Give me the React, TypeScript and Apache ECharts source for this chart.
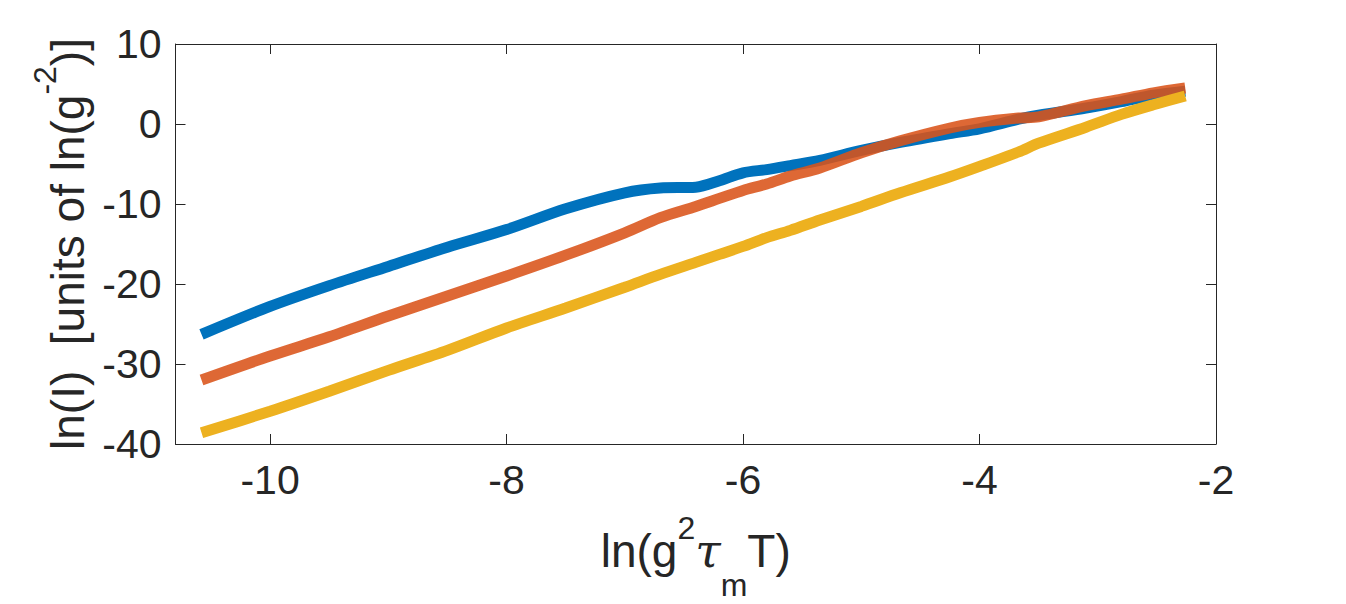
import React, { useEffect, useRef } from "react";
import * as echarts from "echarts";

const xValues = [-10.58, -10, -9.5, -9, -8.5, -8, -7.5, -7, -6.7, -6.4, -6.2, -6.0, -5.8, -5.6, -5.35, -5, -4.67, -4.25, -4, -3.67, -3.5, -3.1, -2.8, -2.53, -2.26];
const blueValues = [-26.3, -22.8, -20.2, -17.8, -15.4, -13.2, -10.6, -8.6, -8.0, -7.9, -7.1, -6.1, -5.7, -5.2, -4.55, -3.3, -2.3, -1.2, -0.6, 0.6, 1.1, 2.0, 2.8, 3.6, 4.1];
const orangeValues = [-32.0, -29.0, -26.6, -24.0, -21.5, -19.0, -16.4, -13.6, -11.7, -10.3, -9.3, -8.3, -7.5, -6.5, -5.5, -3.6, -2.1, -0.5, 0.2, 0.75, 0.9, 2.3, 3.1, 3.9, 4.5];
const yellowValues = [-38.6, -35.9, -33.4, -30.8, -28.3, -25.5, -23.0, -20.4, -18.8, -17.3, -16.3, -15.3, -14.2, -13.3, -12.0, -10.3, -8.6, -6.6, -5.3, -3.5, -2.4, -0.4, 1.2, 2.4, 3.5];
const xTicks = [-10, -8, -6, -4, -2];
const yTicks = [-40, -30, -20, -10, 0, 10];

const FONT = "'Liberation Sans', Arial, Helvetica, sans-serif";
const INK = "#262626";

const pairs = (ys: number[]) => xValues.map((x, i) => [x, ys[i]]);

export default function App() {
  const ref = useRef<HTMLDivElement>(null);
  useEffect(() => {
    if (!ref.current) return;
    const chart = echarts.init(ref.current, null, { renderer: "svg" });
    const richX = {
      m: { fontSize: 46, fontFamily: FONT, color: INK },
      sup: { fontSize: 32, fontFamily: FONT, color: INK, padding: [0, 0, 46, 0] },
      sub: { fontSize: 32, fontFamily: FONT, color: INK, padding: [68, 0, 0, 0] },
      tau: { fontSize: 46, fontFamily: "'DejaVu Serif', 'Liberation Serif', serif", fontStyle: "italic", color: INK },
    };
    const richY = {
      m: { fontSize: 46, fontFamily: FONT, color: INK },
      sup: { fontSize: 32, fontFamily: FONT, color: INK, padding: [0, 0, 46, 0] },
    };
    const baseX = {
      type: "value",
      min: -10.8,
      max: -2,
      splitLine: { show: false },
      axisLine: { show: true, onZero: false, lineStyle: { color: INK, width: 1 } },
      axisTick: { show: true, inside: true, length: 10, customValues: xTicks, lineStyle: { color: INK } },
    };
    const baseY = {
      type: "value",
      min: yTicks[0],
      max: yTicks[yTicks.length - 1],
      interval: 10,
      splitLine: { show: false },
      axisLine: { show: true, onZero: false, lineStyle: { color: INK, width: 1 } },
      axisTick: { show: true, inside: true, length: 10, lineStyle: { color: INK } },
    };
    chart.setOption({
      animation: false,
      backgroundColor: "#ffffff",
      grid: { left: 175.5, right: 130, top: 44, bottom: 160, containLabel: false, outerBoundsMode: "none" },
      xAxis: [
        {
          ...baseX,
          position: "bottom",
          axisLabel: { show: true, customValues: xTicks, fontSize: 41, fontFamily: FONT, color: INK, margin: 15 },
          name: "{m|ln(g}{sup|2}{tau|τ}{sub|m}{m|T)}",
          nameLocation: "middle",
          nameGap: 57,
          nameTextStyle: { rich: richX },
        },
        { ...baseX, position: "top", axisLabel: { show: false } },
      ],
      yAxis: [
        {
          ...baseY,
          position: "left",
          axisLabel: { show: true, fontSize: 41, fontFamily: FONT, color: INK, margin: 14 },
          name: "{m|ln(I)  [units of ln(g}{sup|-2}{m|)]}",
          nameLocation: "middle",
          nameRotate: 90,
          nameGap: 66,
          nameTextStyle: { rich: richY },
        },
        { ...baseY, position: "right", axisLabel: { show: false } },
      ],
      series: [
        {
          type: "line",
          data: pairs(blueValues),
          showSymbol: false,
          smooth: 0.3,
          lineStyle: { color: "#0072BD", width: 11, cap: "butt" },
        },
        {
          type: "line",
          data: pairs(orangeValues),
          showSymbol: false,
          smooth: 0.3,
          lineStyle: { color: "#D95319", width: 11, opacity: 0.88, cap: "butt" },
        },
        {
          type: "line",
          data: pairs(yellowValues),
          showSymbol: false,
          smooth: 0.3,
          lineStyle: { color: "#EDB120", width: 11, cap: "butt" },
        },
      ],
    });
    return () => chart.dispose();
  }, []);
  return <div ref={ref} style={{ position: "fixed", left: 0, top: 0, width: 1346, height: 604, background: "#fff" }} />;
}
